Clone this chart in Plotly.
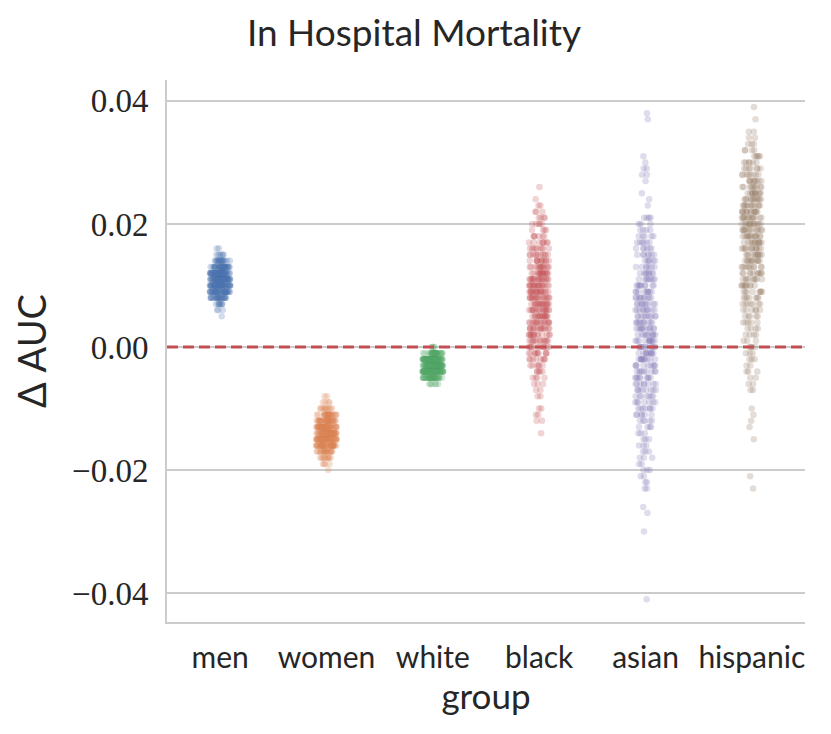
import numpy as np
import plotly.graph_objects as go

groups = ["men", "women", "white", "black", "asian", "hispanic"]
colors = ["#4C72B0", "#DD8452", "#55A868", "#C44E52", "#8172B3", "#937860"]

# Delta AUC values (rounded to 0.001) and how many bootstrap points sit at each value
men_levels = [0.016, 0.015, 0.014, 0.013, 0.012, 0.011, 0.010, 0.009, 0.008, 0.007, 0.006, 0.005]
men_counts = [2, 6, 18, 35, 50, 55, 50, 40, 25, 8, 3, 1]

women_levels = [-0.008, -0.009, -0.010, -0.011, -0.012, -0.013, -0.014, -0.015, -0.016,
                -0.017, -0.018, -0.019, -0.020]
women_counts = [2, 4, 10, 25, 35, 45, 50, 50, 40, 20, 10, 4, 1]

white_levels = [0.000, -0.001, -0.002, -0.003, -0.004, -0.005, -0.006]
white_counts = [4, 30, 65, 75, 65, 35, 6]

black_levels = [0.026, 0.024, 0.023, 0.022, 0.021, 0.020, 0.019, 0.018, 0.017, 0.016,
                0.015, 0.014, 0.013, 0.012, 0.011, 0.010, 0.009, 0.008, 0.007, 0.006,
                0.005, 0.004, 0.003, 0.002, 0.001, 0.000, -0.001, -0.002, -0.003, -0.004,
                -0.005, -0.006, -0.007, -0.008, -0.010, -0.011, -0.012, -0.014]
black_counts = [1, 1, 2, 3, 4, 5, 4, 6, 8, 9,
                11, 12, 14, 16, 18, 19, 19, 18, 17, 17,
                16, 16, 15, 14, 13, 12, 10, 8, 6, 5,
                4, 3, 2, 2, 2, 2, 2, 1]

asian_levels = [0.038, 0.037, 0.031, 0.030, 0.029, 0.028, 0.027, 0.025, 0.024, 0.023,
                0.021, 0.020, 0.019, 0.018, 0.017, 0.016, 0.015, 0.014, 0.013, 0.012,
                0.011, 0.010, 0.009, 0.008, 0.007, 0.006, 0.005, 0.004, 0.003, 0.002,
                0.001, 0.000, -0.001, -0.002, -0.003, -0.004, -0.005, -0.006, -0.007, -0.008,
                -0.009, -0.010, -0.011, -0.012, -0.013, -0.014, -0.015, -0.016, -0.017, -0.018,
                -0.019, -0.020, -0.021, -0.022, -0.023, -0.026, -0.027, -0.030, -0.041]
asian_counts = [1, 1, 1, 1, 2, 2, 1, 1, 1, 1,
                4, 3, 4, 5, 6, 6, 7, 6, 7, 8,
                8, 9, 9, 10, 10, 10, 10, 10, 11, 10,
                11, 11, 10, 10, 9, 9, 9, 8, 8, 7,
                7, 7, 6, 5, 4, 3, 3, 3, 3, 3,
                2, 3, 2, 2, 2, 1, 1, 1, 1]

hispanic_levels = [0.039, 0.037, 0.035, 0.034, 0.033, 0.032, 0.031, 0.030, 0.029, 0.028,
                   0.027, 0.026, 0.025, 0.024, 0.023, 0.022, 0.021, 0.020, 0.019, 0.018,
                   0.017, 0.016, 0.015, 0.014, 0.013, 0.012, 0.011, 0.010, 0.009, 0.008,
                   0.007, 0.006, 0.005, 0.004, 0.003, 0.002, 0.001, 0.000, -0.001, -0.002,
                   -0.003, -0.004, -0.005, -0.006, -0.007, -0.010, -0.011, -0.012, -0.013, -0.015,
                   -0.021, -0.023]
hispanic_counts = [1, 1, 2, 2, 3, 4, 5, 6, 7, 8,
                   9, 10, 11, 12, 12, 13, 13, 13, 13, 13,
                   12, 12, 11, 11, 10, 10, 9, 9, 8, 7,
                   7, 6, 5, 5, 4, 4, 3, 4, 3, 3,
                   2, 3, 2, 2, 2, 1, 1, 1, 1, 1,
                   1, 1]

y_ticks = [-0.04, -0.02, 0.00, 0.02, 0.04]

data = {
    "men": (men_levels, men_counts),
    "women": (women_levels, women_counts),
    "white": (white_levels, white_counts),
    "black": (black_levels, black_counts),
    "asian": (asian_levels, asian_counts),
    "hispanic": (hispanic_levels, hispanic_counts),
}

SANS = "Lato, sans-serif"
INK = "#262626"

fig = go.Figure()
for g, c in zip(groups, colors):
    lv, ct = data[g]
    vals = np.repeat(np.array(lv), np.array(ct))
    fig.add_trace(go.Box(
        x=[g] * len(vals), y=vals, name=g,
        boxpoints="all", jitter=0.4, pointpos=0,
        fillcolor="rgba(0,0,0,0)",
        line=dict(width=0, color="rgba(0,0,0,0)"),
        marker=dict(color=c, size=6.5, opacity=0.25, line=dict(width=0)),
        hoveron="points", showlegend=False,
    ))

fig.add_shape(type="line", xref="paper", yref="y", x0=0, x1=1, y0=0, y1=0,
              line=dict(color="#C44E52", width=2.8, dash="11px,5px"), layer="above")

fig.update_layout(
    width=823, height=726,
    margin=dict(l=159, r=26, t=72, b=112),
    paper_bgcolor="white", plot_bgcolor="white",
    title=dict(text="In Hospital Mortality", x=0.4933, xref="container", xanchor="center",
               y=0.966, yref="container", yanchor="middle",
               font=dict(family=SANS, size=37, color=INK)),
    xaxis=dict(
        type="category", categoryorder="array", categoryarray=groups,
        range=[-0.5, 5.5],
        showgrid=False, zeroline=False,
        showline=True, linecolor="#cccccc", linewidth=2,
        ticks="outside", ticklen=8, tickcolor="rgba(0,0,0,0)",
        tickfont=dict(family=SANS, size=30, color=INK),
        title=dict(text="group", standoff=6,
                   font=dict(family=SANS, size=35, color=INK)),
    ),
    yaxis=dict(
        range=[-0.0447, 0.0434],
        tickvals=y_ticks, tickformat=".2f",
        showgrid=True, gridcolor="#cccccc", gridwidth=1.5,
        zeroline=False,
        showline=True, linecolor="#cccccc", linewidth=2,
        ticks="outside", ticklen=10, tickcolor="rgba(0,0,0,0)",
        tickfont=dict(family="Liberation Serif, serif", size=33, color=INK),
        title=dict(text="Δ AUC", standoff=18,
                   font=dict(family=SANS, size=38, color=INK)),
    ),
)

fig.write_html("out.html")
